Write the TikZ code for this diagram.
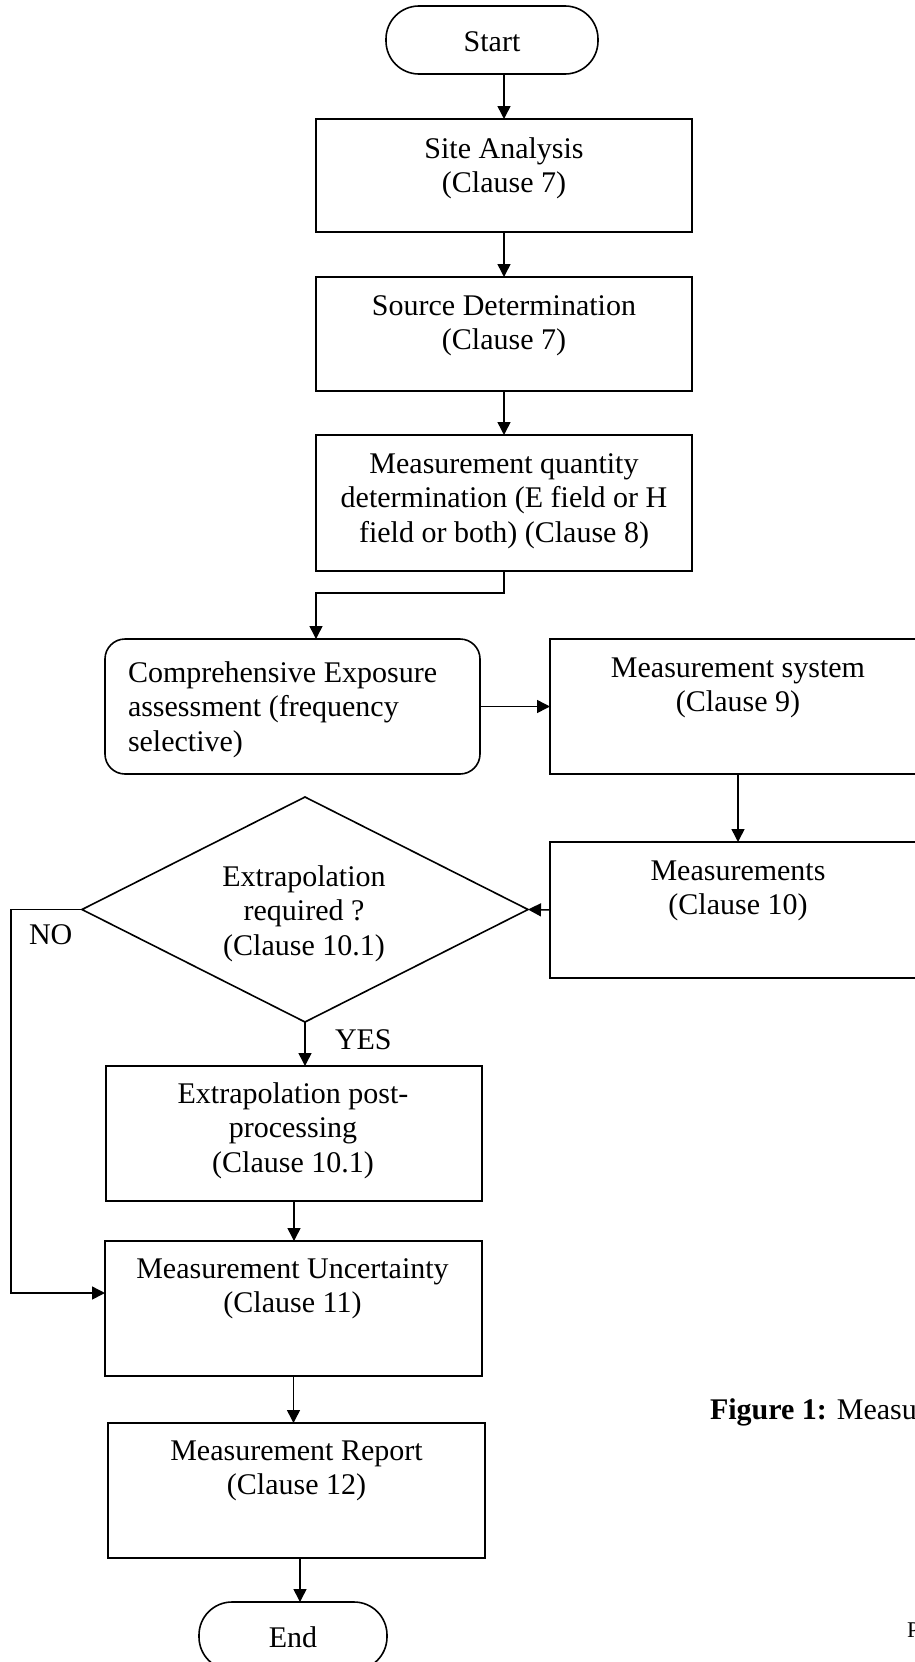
\documentclass[tikz,border=0pt]{standalone}
\usepackage{fontspec}
\setmainfont{Liberation Serif}
\usetikzlibrary{arrows.meta,shapes.geometric}
\begin{document}
\begin{tikzpicture}[x=1pt,y=-1pt,
  every node/.style={font=\fontsize{30}{34.5}\selectfont},
  box/.style={draw, line width=1.6pt, minimum width=376, inner sep=0pt, outer sep=0pt},
  term/.style={draw, line width=1.6pt, rounded corners=33, minimum height=68, inner sep=0pt, outer sep=0pt},
  txt/.style={inner sep=0pt, outer sep=0pt, align=center, anchor=north},
  lbl/.style={inner sep=0pt, outer sep=0pt, anchor=base west},
  arr/.style={line width=1.5pt, -{Triangle[length=13pt,width=13pt]}}
]
\useasboundingbox (0,0) rectangle (915,1662);
\clip (0,0) rectangle (915,1662);

% shapes
\node[term, minimum width=212] (start) at (492,40) {};
\node[box, minimum height=113] (site) at (504,175.5) {};
\node[box, minimum height=114] (source) at (504,334) {};
\node[box, minimum height=136] (mq) at (504,503) {};
\node[box, rounded corners=20, minimum width=375, minimum height=135] (comp) at (292.5,706.5) {};
\node[box, minimum height=135] (msys) at (738,706.5) {};
\node[box, minimum height=136] (meas) at (738,910) {};
\node[draw, line width=1.6pt, diamond, inner sep=0pt, outer sep=0pt, minimum width=446, minimum height=225] (dia) at (305,909.5) {};
\node[box, minimum height=135] (post) at (294,1133.5) {};
\node[box, minimum width=377, minimum height=135] (unc) at (293.5,1308.5) {};
\node[box, minimum width=377, minimum height=135] (rep) at (296.5,1490.5) {};
\node[term, minimum width=188] (endn) at (293,1636) {};

% texts
\node[inner sep=0pt, anchor=base] (startT) at (492,52) {Start};
\node[txt] (siteT) at (504,133.85) {\strut Site Analysis\\(Clause 7)};
\node[txt] (sourceT) at (504,290.85) {\strut Source Determination\\(Clause 7)};
\node[txt] (mqT) at (504,448.85) {\strut Measurement quantity\\determination (E field or H\\field or both) (Clause 8)};
\node[txt, align=left, anchor=north west] (compT) at (128,657.85) {\strut Comprehensive Exposure\\assessment (frequency\\selective)};
\node[txt] (msysT) at (738,652.85) {\strut Measurement system\\(Clause 9)};
\node[txt] (measT) at (738,855.85) {\strut Measurements\\(Clause 10)};
\node[txt] (diaT) at (304,861.85) {\strut Extrapolation\\required ?\\(Clause 10.1)};
\node[txt] (postT) at (293,1078.85) {\strut Extrapolation post-\\processing\\(Clause 10.1)};
\node[txt] (uncT) at (292.5,1253.85) {\strut Measurement Uncertainty\\(Clause 11)};
\node[txt] (repT) at (296.5,1435.85) {\strut Measurement Report\\(Clause 12)};
\node[inner sep=0pt, anchor=base] (endT) at (293,1647) {End};
\node[lbl] (noT) at (29,944) {NO};
\node[lbl] (yesT) at (335,1049) {YES};
\node[lbl] (capT) at (710,1419) {\textbf{Figure 1:} Measu};
\node[lbl, font=\fontsize{22.5}{26}\selectfont] (pT) at (907,1637) {P};

% connectors
\coordinate (c1) at (316,593);
\coordinate (c2) at (11,1293);
\draw[arr] (site.north |- start.south) -- (site.north);
\draw[arr] (site.south) -- (source.north);
\draw[arr] (source.south) -- (mq.north);
\draw[arr] (mq.south) |- (c1) -- (c1 |- comp.north);
\draw[arr] (comp.east) -- (msys.west);
\draw[arr] (msys.south) -- (meas.north);
\draw[arr] (meas.west) -- (dia.east);
\draw[arr] (dia.west) -| (c2) -- (c2 -| unc.west);
\draw[arr] (dia.south) -- (dia.south |- post.north);
\draw[arr] (post.south) -- (post.south |- unc.north);
\draw[arr] (unc.south) -- (unc.south |- rep.north);
\draw[arr] ([xshift=3.5pt]rep.south) -- ([xshift=3.5pt]rep.south |- endn.north);
\end{tikzpicture}
\end{document}
